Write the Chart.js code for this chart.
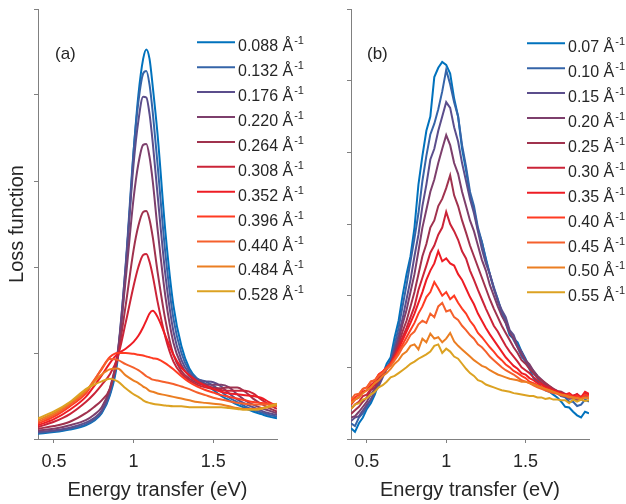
<!DOCTYPE html>
<html>
<head>
<meta charset="utf-8">
<script src="https://cdn.jsdelivr.net/npm/chart.js@4.4.1/dist/chart.umd.min.js"></script>
<style>
  html, body { margin: 0; padding: 0; background: #fff; }
  #wrap { position: relative; width: 626px; height: 504px; }
  .pane { position: absolute; top: 0; width: 313px; height: 504px; }
  #paneA { left: 0; }
  #paneB { left: 313px; }
</style>
</head>
<body>
<div id="wrap">
  <div class="pane" id="paneA"><canvas id="chartA"></canvas></div>
  <div class="pane" id="paneB"><canvas id="chartB"></canvas></div>
</div>
<script>
// ---- data ----
const xTicks = [0.5, 1, 1.5];
const colors = ['#0072BD', '#3564A8', '#5B4E8C', '#7D3F6C', '#A0324E', '#CB2438',
                '#EE1C24', '#FF3B22', '#F5602C', '#EB7E22', '#DCA222'];

// panel (a): calculated loss function
const qA = ['0.088', '0.132', '0.176', '0.220', '0.264', '0.308', '0.352', '0.396', '0.440', '0.484', '0.528'];
const energyA = [0.40, 0.50, 0.60, 0.70, 0.75, 0.80, 0.85, 0.90, 0.95, 1.00, 1.03, 1.06, 1.08, 1.10, 1.12, 1.15,
                 1.20, 1.25, 1.30, 1.35, 1.40, 1.45, 1.50, 1.55, 1.60, 1.65, 1.70, 1.75, 1.80, 1.85, 1.90];
const lossA = [
  [0.06,0.08,0.11,0.16,0.21,0.30,0.50,0.92,1.95,3.34,4.00,4.42,4.53,4.42,4.10,3.55,2.40,1.55,1.08,0.82,0.70,0.64,0.57,0.50,0.45,0.40,0.36,0.32,0.29,0.26,0.24],
  [0.07,0.09,0.12,0.17,0.22,0.31,0.52,0.97,2.02,3.35,3.92,4.25,4.28,4.12,3.80,3.20,2.15,1.40,1.00,0.79,0.70,0.67,0.62,0.55,0.48,0.43,0.38,0.34,0.31,0.28,0.26],
  [0.08,0.10,0.13,0.19,0.24,0.33,0.55,1.00,2.00,3.20,3.70,3.98,3.97,3.78,3.45,2.85,1.90,1.25,0.92,0.76,0.69,0.67,0.66,0.61,0.53,0.46,0.41,0.37,0.33,0.30,0.28],
  [0.10,0.12,0.16,0.22,0.28,0.37,0.58,1.00,1.85,2.80,3.20,3.42,3.43,3.28,3.00,2.45,1.65,1.12,0.86,0.73,0.67,0.64,0.63,0.63,0.60,0.52,0.45,0.40,0.36,0.33,0.30],
  [0.12,0.15,0.20,0.30,0.37,0.45,0.58,0.95,1.55,2.20,2.48,2.64,2.65,2.55,2.35,1.95,1.38,0.98,0.79,0.70,0.65,0.62,0.60,0.59,0.60,0.60,0.55,0.47,0.41,0.36,0.32],
  [0.14,0.20,0.29,0.43,0.52,0.63,0.75,0.95,1.35,1.78,2.00,2.14,2.15,2.06,1.90,1.60,1.18,0.90,0.76,0.68,0.63,0.60,0.58,0.57,0.56,0.56,0.56,0.53,0.46,0.40,0.35],
  [0.16,0.23,0.34,0.49,0.61,0.74,0.88,0.99,1.05,1.13,1.20,1.30,1.38,1.46,1.49,1.42,1.20,0.98,0.83,0.74,0.67,0.62,0.58,0.55,0.53,0.52,0.51,0.50,0.48,0.43,0.38],
  [0.18,0.26,0.38,0.53,0.67,0.82,0.95,1.00,1.00,0.99,0.98,0.97,0.96,0.95,0.94,0.93,0.88,0.81,0.73,0.66,0.61,0.57,0.54,0.51,0.49,0.47,0.45,0.43,0.42,0.41,0.40],
  [0.20,0.28,0.40,0.55,0.68,0.81,0.93,0.92,0.87,0.83,0.80,0.76,0.73,0.71,0.69,0.68,0.66,0.64,0.61,0.58,0.54,0.51,0.48,0.46,0.44,0.42,0.41,0.40,0.40,0.40,0.40],
  [0.22,0.30,0.42,0.56,0.66,0.75,0.81,0.82,0.74,0.68,0.65,0.61,0.59,0.56,0.55,0.53,0.51,0.49,0.47,0.45,0.43,0.42,0.41,0.40,0.38,0.36,0.35,0.35,0.36,0.37,0.39],
  [0.24,0.32,0.43,0.58,0.63,0.67,0.70,0.67,0.59,0.52,0.49,0.45,0.43,0.42,0.41,0.40,0.39,0.38,0.38,0.37,0.37,0.37,0.37,0.37,0.36,0.35,0.34,0.34,0.35,0.38,0.41]
];

// panel (b): measured loss function
const qB = ['0.07', '0.10', '0.15', '0.20', '0.25', '0.30', '0.35', '0.40', '0.45', '0.50', '0.55'];
const energyB = [0.400, 0.425, 0.450, 0.475, 0.500, 0.525, 0.550, 0.575, 0.600, 0.625,
                 0.650, 0.675, 0.700, 0.725, 0.750, 0.775, 0.800, 0.825, 0.850, 0.875,
                 0.900, 0.925, 0.950, 0.975, 1.000, 1.025, 1.050, 1.075, 1.100, 1.125,
                 1.150, 1.175, 1.200, 1.225, 1.250, 1.275, 1.300, 1.325, 1.350, 1.375,
                 1.400, 1.425, 1.450, 1.475, 1.500, 1.525, 1.550, 1.575, 1.600, 1.625,
                 1.650, 1.675, 1.700, 1.725, 1.750, 1.775, 1.800, 1.825, 1.850, 1.875, 1.900];
const lossB = [
  [0.15,0.10,0.22,0.30,0.42,0.50,0.62,0.78,0.90,1.05, 1.14,1.42,1.65,2.00,2.30,2.55,2.95,3.55,3.95,4.30,
   4.50,5.05,5.18,5.26,5.22,5.10,4.75,4.50,4.05,3.75, 3.40,3.20,2.92,2.75,2.52,2.30,2.10,1.95,1.75,1.62,
   1.45,1.40,1.35,1.22,1.12,0.98,0.85,0.80,0.72,0.68, 0.66,0.62,0.58,0.52,0.45,0.44,0.38,0.33,0.30,0.38,0.36],
  [0.22,0.18,0.30,0.36,0.45,0.55,0.65,0.80,0.88,1.00, 1.10,1.32,1.55,1.85,2.15,2.48,2.80,3.15,3.60,3.95,
   4.25,4.40,4.60,4.85,5.15,4.95,4.70,4.50,4.10,3.80, 3.45,3.25,2.95,2.75,2.50,2.30,2.12,1.95,1.78,1.66,
   1.50,1.38,1.28,1.15,1.08,0.98,0.92,0.85,0.78,0.75, 0.70,0.66,0.64,0.60,0.58,0.52,0.52,0.46,0.48,0.55,0.52],
  [0.25,0.30,0.32,0.40,0.48,0.55,0.66,0.74,0.86,0.98, 1.05,1.25,1.45,1.68,1.95,2.22,2.55,2.85,3.25,3.55,
   3.90,4.05,4.30,4.50,4.70,4.62,4.35,4.15,3.85,3.60, 3.35,3.15,2.90,2.65,2.45,2.30,2.10,1.92,1.80,1.70,
   1.52,1.45,1.30,1.22,1.10,1.02,0.95,0.88,0.82,0.76, 0.72,0.68,0.65,0.60,0.60,0.56,0.57,0.54,0.55,0.60,0.56],
  [0.30,0.32,0.38,0.45,0.52,0.62,0.70,0.80,0.88,0.98, 1.05,1.22,1.38,1.60,1.80,2.05,2.30,2.62,2.95,3.20,
   3.45,3.62,3.85,4.05,4.24,4.10,3.85,3.70,3.45,3.25, 3.05,2.90,2.70,2.50,2.35,2.15,2.00,1.85,1.72,1.62,
   1.48,1.40,1.28,1.18,1.10,1.04,0.95,0.88,0.83,0.78, 0.74,0.70,0.67,0.63,0.62,0.58,0.58,0.55,0.55,0.60,0.57],
  [0.35,0.40,0.45,0.52,0.58,0.68,0.72,0.82,0.90,0.98, 1.05,1.18,1.32,1.50,1.65,1.85,2.05,2.30,2.55,2.72,
   2.95,3.05,3.25,3.35,3.50,3.68,3.40,3.25,3.05,2.88, 2.70,2.55,2.40,2.25,2.10,1.95,1.82,1.70,1.58,1.48,
   1.38,1.28,1.20,1.10,1.05,0.98,0.92,0.86,0.82,0.78, 0.74,0.70,0.67,0.66,0.63,0.60,0.60,0.62,0.58,0.63,0.62],
  [0.42,0.48,0.52,0.60,0.62,0.70,0.76,0.85,0.92,1.00, 1.05,1.15,1.28,1.42,1.55,1.70,1.85,2.08,2.25,2.42,
   2.60,2.70,2.85,2.95,3.17,3.00,2.90,2.78,2.62,2.52, 2.35,2.22,2.08,1.95,1.82,1.70,1.58,1.50,1.40,1.30,
   1.22,1.15,1.08,1.00,0.96,0.92,0.86,0.82,0.78,0.74, 0.72,0.68,0.66,0.64,0.62,0.60,0.60,0.63,0.58,0.62,0.62],
  [0.48,0.55,0.58,0.66,0.68,0.75,0.80,0.90,0.94,1.00, 1.05,1.15,1.25,1.38,1.50,1.62,1.75,1.90,2.05,2.22,
   2.35,2.45,2.62,2.48,2.52,2.45,2.42,2.30,2.22,2.10, 1.98,1.88,1.75,1.65,1.55,1.46,1.38,1.30,1.22,1.14,
   1.08,1.02,0.98,0.92,0.90,0.85,0.82,0.78,0.76,0.72, 0.70,0.68,0.66,0.64,0.62,0.64,0.60,0.62,0.58,0.66,0.63],
  [0.52,0.58,0.62,0.70,0.72,0.80,0.82,0.90,0.94,1.00, 1.05,1.12,1.22,1.32,1.42,1.52,1.62,1.75,1.85,1.98,
   2.05,2.19,2.10,2.00,2.05,1.95,2.00,1.90,1.82,1.75, 1.65,1.58,1.48,1.42,1.35,1.28,1.22,1.15,1.10,1.04,
   1.00,0.95,0.92,0.88,0.85,0.80,0.78,0.75,0.73,0.70, 0.68,0.66,0.64,0.62,0.60,0.62,0.58,0.60,0.57,0.62,0.60],
  [0.55,0.62,0.63,0.70,0.72,0.80,0.82,0.88,0.92,0.98, 1.02,1.10,1.18,1.28,1.35,1.45,1.50,1.60,1.65,1.62,
   1.75,1.70,1.85,1.90,1.78,1.80,1.70,1.66,1.58,1.52, 1.45,1.40,1.32,1.28,1.22,1.15,1.10,1.05,1.00,0.96,
   0.93,0.90,0.86,0.82,0.80,0.78,0.75,0.72,0.70,0.68, 0.66,0.64,0.63,0.61,0.60,0.58,0.58,0.57,0.56,0.58,0.58],
  [0.50,0.55,0.58,0.64,0.68,0.72,0.78,0.82,0.88,0.92, 0.98,1.05,1.10,1.18,1.22,1.30,1.32,1.25,1.40,1.35,
   1.47,1.40,1.42,1.35,1.40,1.48,1.36,1.30,1.25,1.20, 1.15,1.10,1.06,1.02,1.00,0.96,0.93,0.90,0.88,0.86,
   0.84,0.83,0.82,0.80,0.80,0.78,0.76,0.74,0.72,0.70, 0.68,0.66,0.64,0.62,0.61,0.59,0.58,0.57,0.56,0.58,0.57],
  [0.42,0.48,0.50,0.55,0.57,0.62,0.66,0.72,0.75,0.80, 0.86,0.88,0.92,0.96,1.00,1.05,1.08,1.12,1.15,1.18,
   1.22,1.30,1.32,1.20,1.26,1.22,1.15,1.12,1.05,0.98, 0.92,0.88,0.82,0.80,0.76,0.74,0.72,0.70,0.68,0.67,
   0.66,0.64,0.63,0.62,0.61,0.60,0.60,0.58,0.58,0.56, 0.57,0.55,0.55,0.54,0.54,0.50,0.55,0.52,0.55,0.53,0.54]
];

// ---- drawing ----
const FONT = '"Liberation Sans", Arial, sans-serif';
const TEXT = '#262626';
const AXIS = '#808080';

// legend with superscript units + panel tag
const qLegend = {
  id: 'qLegend',
  afterDraw(chart, args, opts) {
    const ctx = chart.ctx;
    ctx.save();
    chart.data.datasets.forEach((ds, i) => {
      const y = opts.top + i * opts.step;
      ctx.strokeStyle = ds.borderColor;
      ctx.lineWidth = 2;
      ctx.beginPath();
      ctx.moveTo(opts.x0, y);
      ctx.lineTo(opts.x1, y);
      ctx.stroke();
      ctx.fillStyle = TEXT;
      ctx.textBaseline = 'alphabetic';
      ctx.textAlign = 'left';
      ctx.font = '16px ' + FONT;
      const txt = ds.q + ' Å';
      ctx.fillText(txt, opts.x1 + 3, y + 9);
      const w = ctx.measureText(txt).width;
      ctx.font = '11px ' + FONT;
      ctx.fillText('-1', opts.x1 + 3 + w + 1, y + 2);
    });
    ctx.font = '17px ' + FONT;
    ctx.fillStyle = TEXT;
    ctx.fillText(opts.tag, opts.tagX, opts.tagY);
    ctx.restore();
  }
};

function makeChart(id, energy, loss, qs, yMax, smooth, legendOpts, showTitle) {
  const datasets = loss.map((row, i) => ({
    label: qs[i] + ' Å⁻¹',
    q: qs[i],
    data: row.map((v, j) => ({ x: energy[j], y: v })),
    borderColor: colors[i],
    borderWidth: 2,
    pointRadius: 0,
    fill: false,
    order: loss.length - i,
    tension: smooth ? 0.4 : 0,
    cubicInterpolationMode: smooth ? 'monotone' : 'default'
  }));

  return new Chart(document.getElementById(id), {
    type: 'line',
    data: { datasets },
    options: {
      responsive: true,
      maintainAspectRatio: false,
      animation: false,
      layout: { padding: { top: 9, right: legendOpts.padRight, left: 0, bottom: 0 } },
      plugins: {
        legend: { display: false },
        tooltip: { enabled: false },
        qLegend: legendOpts
      },
      scales: {
        x: {
          type: 'linear',
          min: 0.4,
          max: 1.9,
          afterBuildTicks: s => { s.ticks = xTicks.map(v => ({ value: v })); },
          afterFit: s => { s.height = 65; },
          border: { color: AXIS, width: 1 },
          grid: { drawOnChartArea: false, drawTicks: true, tickLength: 4, color: AXIS },
          ticks: { color: TEXT, font: { family: FONT, size: 18 }, padding: 8, maxRotation: 0,
                   callback: v => String(v) },
          title: { display: true, text: 'Energy transfer (eV)', color: TEXT,
                   font: { family: FONT, size: 20 }, padding: { top: 0, bottom: 2 } }
        },
        y: {
          min: 0,
          max: yMax,
          afterBuildTicks: s => { s.ticks = []; for (let v = 0; v <= yMax; v++) s.ticks.push({ value: v }); },
          afterFit: s => { s.width = 38; },
          border: { color: AXIS, width: 1 },
          grid: { drawOnChartArea: false, drawTicks: true, tickLength: 4, color: AXIS },
          ticks: { display: false },
          title: { display: showTitle, text: 'Loss function', color: TEXT,
                   font: { family: FONT, size: 20 }, padding: { top: 5, bottom: 0 } }
        }
      }
    },
    plugins: [qLegend]
  });
}

makeChart('chartA', energyA, lossA, qA, 5, true,
  { top: 42.3, step: 24.9, x0: 197, x1: 235, tag: '(a)', tagX: 55, tagY: 59, padRight: 36 }, true);
makeChart('chartB', energyB, lossB, qB, 6, false,
  { top: 43.3, step: 24.9, x0: 214, x1: 252, tag: '(b)', tagX: 54, tagY: 59, padRight: 37 }, false);
</script>
</body>
</html>
